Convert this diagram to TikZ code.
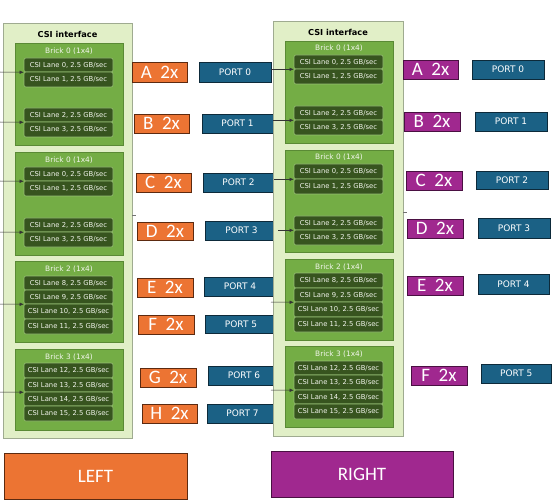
\documentclass[tikz,border=0pt]{standalone}
\usepackage{fontspec}
\setmainfont{DejaVu Sans}
\newfontfamily\calfont{Carlito}
\usetikzlibrary{arrows.meta}
\definecolor{outerg}{HTML}{E1EFC7}
\definecolor{outerd}{HTML}{9FAB90}
\definecolor{brickg}{HTML}{74AD45}
\definecolor{brickd}{HTML}{5A8A35}
\definecolor{laneg}{HTML}{37541F}
\definecolor{laned}{HTML}{96BE74}
\definecolor{lanet}{HTML}{F2F5EC}
\definecolor{orng}{HTML}{EC7433}
\definecolor{orngd}{HTML}{5C2A10}
\definecolor{purp}{HTML}{A0288F}
\definecolor{purpd}{HTML}{4A1042}
\definecolor{portb}{HTML}{1B6185}
\definecolor{portd}{HTML}{0D2A3A}
\newcommand\rb[7]{\node[#1, minimum width={#5-#3}, minimum height={#6-#4}] (#2) at ({(#3+#5)/2},{(#4+#6)/2}) {#7};}
\begin{document}
\begin{tikzpicture}[x=1pt,y=-1pt,
  outer/.style={draw=outerd, fill=outerg, line width=0.8pt, inner sep=0},
  brick/.style={draw=brickd, fill=brickg, line width=0.8pt, inner sep=0},
  lane/.style={draw=laned, fill=laneg, rounded corners=2pt, line width=0.6pt, inner sep=0, text=lanet, font=\fontsize{6.8}{7}\selectfont},
  ttl/.style={inner sep=0, font=\bfseries\fontsize{8.2}{9}\selectfont, text=black},
  bttl/.style={inner sep=0, font=\fontsize{7.4}{8}\selectfont, text=lanet},
  otag/.style={draw=orngd, fill=orng, line width=0.9pt, inner sep=0, text=white, font=\calfont\fontsize{19}{19}\selectfont},
  ptag/.style={draw=purpd, fill=purp, line width=0.9pt, inner sep=0, text=white, font=\calfont\fontsize{19}{19}\selectfont},
  port/.style={draw=portd, fill=portb, line width=0.9pt, inner sep=0, text=white, font=\fontsize{9}{10}\selectfont},
  big/.style={line width=0.9pt, inner sep=0, text=white, font=\calfont\fontsize{19}{20}\selectfont},
  arr/.style={-{Latex[length=4pt,width=3.5pt]}, line width=0.5pt, draw=black!80},
  tick/.style={line width=0.6pt, draw=black!55}]
\useasboundingbox (0,0) rectangle (552,500);

% ---------------- LEFT interface ----------------
\rb{outer}{lout}{3}{23}{132}{438}{}
\node[ttl] (lttl) at (67.5,34) {CSI interface};
\rb{brick}{lb0}{15}{43}{123}{145}{}
\node[bttl] (lb0t) at (69,51) {Brick 0 (1x4)};
\rb{lane}{ll0}{24}{58}{113}{72}{CSI Lane 0, 2.5 GB/sec}
\rb{lane}{ll1}{24}{72}{113}{87}{CSI Lane 1, 2.5 GB/sec}
\rb{lane}{ll2}{24}{108}{113}{122}{CSI Lane 2, 2.5 GB/sec}
\rb{lane}{ll3}{24}{122}{113}{137}{CSI Lane 3, 2.5 GB/sec}
\rb{brick}{lb1}{15}{152}{123}{255}{}
\node[bttl] (lb1t) at (69,160) {Brick 0 (1x4)};
\rb{lane}{lm0}{24}{167}{113}{181}{CSI Lane 0, 2.5 GB/sec}
\rb{lane}{lm1}{24}{181}{113}{196}{CSI Lane 1, 2.5 GB/sec}
\rb{lane}{lm2}{24}{218}{113}{232}{CSI Lane 2, 2.5 GB/sec}
\rb{lane}{lm3}{24}{232}{113}{247}{CSI Lane 3, 2.5 GB/sec}
\rb{brick}{lb2}{15}{261}{123}{342}{}
\node[bttl] (lb2t) at (69,269) {Brick 2 (1x4)};
\rb{lane}{ln8}{24}{276}{113}{290}{CSI Lane 8, 2.5 GB/sec}
\rb{lane}{ln9}{24}{290}{113}{304}{CSI Lane 9, 2.5 GB/sec}
\rb{lane}{ln10}{24}{304}{113}{319}{CSI Lane 10, 2.5 GB/sec}
\rb{lane}{ln11}{24}{319}{113}{334}{CSI Lane 11, 2.5 GB/sec}
\rb{brick}{lb3}{15}{349}{123}{430}{}
\node[bttl] (lb3t) at (69,357) {Brick 3 (1x4)};
\rb{lane}{lp12}{24}{363}{113}{378}{CSI Lane 12, 2.5 GB/sec}
\rb{lane}{lp13}{24}{378}{113}{392}{CSI Lane 13, 2.5 GB/sec}
\rb{lane}{lp14}{24}{392}{113}{406}{CSI Lane 14, 2.5 GB/sec}
\rb{lane}{lp15}{24}{406}{113}{421}{CSI Lane 15, 2.5 GB/sec}

% left tags
\rb{otag}{ta}{132}{62}{187}{82}{A\ \ 2x}
\rb{otag}{tb}{134}{114}{189}{133}{B\ \ 2x}
\rb{otag}{tc}{136}{173}{191}{192}{C\ \ 2x}
\rb{otag}{td}{137}{222}{193}{240}{D\ \ 2x}
\rb{otag}{te}{137}{278}{193}{297}{E\ \ 2x}
\rb{otag}{tf}{138}{315}{194}{334}{F\ \ 2x}
\rb{otag}{tg}{140}{368}{196}{387}{G\ \ 2x}
\rb{otag}{th}{142}{404}{197}{423}{H\ \ 2x}
% left ports
\rb{port}{lq0}{199}{62}{271}{82}{PORT 0}
\rb{port}{lq1}{202}{114}{273}{133}{PORT 1}
\rb{port}{lq2}{203}{173}{274}{192}{PORT 2}
\rb{port}{lq3}{205}{221}{278}{240}{PORT 3}
\rb{port}{lq4}{204}{277}{276}{296}{PORT 4}
\rb{port}{lq5}{205}{315}{277}{333}{PORT 5}
\rb{port}{lq6}{208}{366}{280}{385}{PORT 6}
\rb{port}{lq7}{207}{404}{278}{423}{PORT 7}

% ---------------- RIGHT interface ----------------
\rb{outer}{rout}{273}{21}{403}{436}{}
\node[ttl] (rttl) at (338,32) {CSI interface};
\rb{brick}{rb0}{285}{41}{393}{143}{}
\node[bttl] (rb0t) at (339,48) {Brick 0 (1x4)};
\rb{lane}{rl0}{294}{55}{383}{69}{CSI Lane 0, 2.5 GB/sec}
\rb{lane}{rl1}{294}{69}{383}{84}{CSI Lane 1, 2.5 GB/sec}
\rb{lane}{rl2}{294}{106}{383}{120}{CSI Lane 2, 2.5 GB/sec}
\rb{lane}{rl3}{294}{120}{383}{135}{CSI Lane 3, 2.5 GB/sec}
\rb{brick}{rb1}{285}{150}{393}{252}{}
\node[bttl] (rb1t) at (339,157) {Brick 0 (1x4)};
\rb{lane}{rm0}{294}{164}{383}{179}{CSI Lane 0, 2.5 GB/sec}
\rb{lane}{rm1}{294}{179}{383}{194}{CSI Lane 1, 2.5 GB/sec}
\rb{lane}{rm2}{294}{216}{383}{230}{CSI Lane 2, 2.5 GB/sec}
\rb{lane}{rm3}{294}{230}{383}{245}{CSI Lane 3, 2.5 GB/sec}
\rb{brick}{rb2}{285}{259}{393}{340}{}
\node[bttl] (rb2t) at (339,267) {Brick 2 (1x4)};
\rb{lane}{rn8}{294}{273}{383}{288}{CSI Lane 8, 2.5 GB/sec}
\rb{lane}{rn9}{294}{288}{383}{302}{CSI Lane 9, 2.5 GB/sec}
\rb{lane}{rn10}{294}{302}{383}{317}{CSI Lane 10, 2.5 GB/sec}
\rb{lane}{rn11}{294}{317}{383}{332}{CSI Lane 11, 2.5 GB/sec}
\rb{brick}{rb3}{285}{346}{393}{427}{}
\node[bttl] (rb3t) at (339,354) {Brick 3 (1x4)};
\rb{lane}{rp12}{294}{361}{383}{375}{CSI Lane 12, 2.5 GB/sec}
\rb{lane}{rp13}{294}{375}{383}{390}{CSI Lane 13, 2.5 GB/sec}
\rb{lane}{rp14}{294}{390}{383}{404}{CSI Lane 14, 2.5 GB/sec}
\rb{lane}{rp15}{294}{404}{383}{419}{CSI Lane 15, 2.5 GB/sec}

% right tags
\rb{ptag}{ua}{403}{60}{458}{79}{A\ \ 2x}
\rb{ptag}{ub}{404}{112}{460}{131}{B\ \ 2x}
\rb{ptag}{uc}{406}{171}{462}{190}{C\ \ 2x}
\rb{ptag}{ud}{407}{219}{463}{238}{D\ \ 2x}
\rb{ptag}{ue}{407}{276}{463}{295}{E\ \ 2x}
\rb{ptag}{uf}{411}{366}{467}{385}{F\ \ 2x}
% right ports
\rb{port}{rq0}{472}{60}{544}{79}{PORT 0}
\rb{port}{rq1}{475}{112}{547}{131}{PORT 1}
\rb{port}{rq2}{476}{171}{548}{189}{PORT 2}
\rb{port}{rq3}{478}{218}{550}{238}{PORT 3}
\rb{port}{rq4}{478}{274}{549}{294}{PORT 4}
\rb{port}{rq5}{481}{364}{551.5}{383}{PORT 5}

% bottom legend
\rb{big, draw=orngd, fill=orng}{leftbox}{4}{453}{187}{499}{LEFT}
\rb{big, draw=purpd, fill=purp}{rightbox}{271}{451}{453}{497}{RIGHT}

% ---------------- connectors ----------------
\coordinate (in0) at (0,72);
\coordinate (in1) at (0,122);
\coordinate (in2) at (0,181);
\coordinate (in3) at (0,232);
\coordinate (in4) at (0,304);
\coordinate (in5) at (0,392);
\draw[arr] (in0) -- (ll0.south west);
\draw[arr] (in1) -- (ll2.south west);
\draw[arr] (in2) -- (lm0.south west);
\draw[arr] (in3) -- (lm2.south west);
\draw[arr] (in4) -- (ln9.south west);
\draw[arr] (in5) -- (lp13.south west);

\coordinate (mid45) at (271,302);
\coordinate (mid67) at (271,390);
\draw[arr] (lq0.east |- rl0.south west) -- (rl0.south west);
\draw[arr] (lq1.east |- rl2.south west) -- (rl2.south west);
\draw[arr] (lq2.east |- rm0.south west) -- (rm0.south west);
\draw[arr] (lq3.east |- rm2.south west) -- (rm2.south west);
\draw[arr] (mid45) -- (rn9.south west);
\draw[arr] (mid67) -- (rp13.south west);

% stubs on the interface edges
\coordinate (lstub) at (136,215);
\coordinate (rstub) at (407,212);
\draw[tick] (lout.east |- lstub) -- (lstub);
\draw[tick] (rout.east |- rstub) -- (rstub);
\end{tikzpicture}
\end{document}
